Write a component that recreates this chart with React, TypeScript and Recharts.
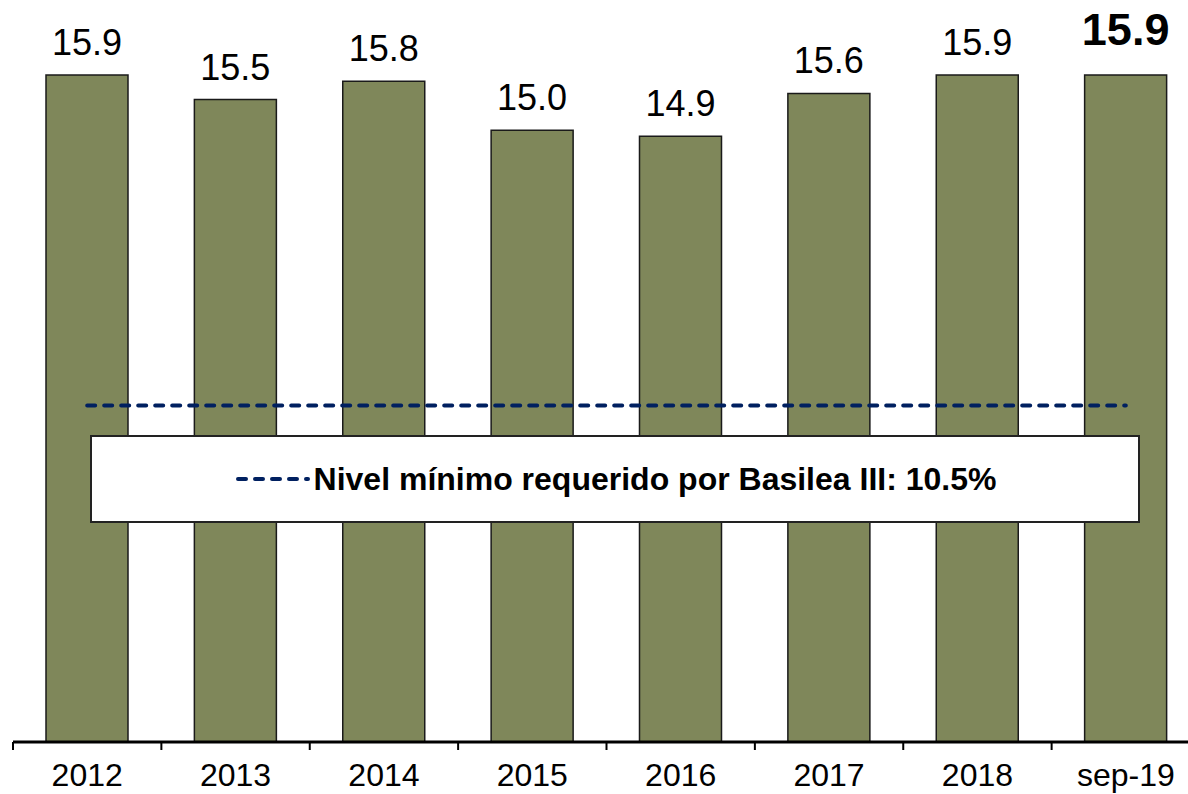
import { BarChart, Bar, XAxis, YAxis, LabelList, ReferenceLine, Legend } from "recharts";

const categories = ["2012", "2013", "2014", "2015", "2016", "2017", "2018", "sep-19"];
const ratios = [15.9, 15.5, 15.8, 15.0, 14.9, 15.6, 15.9, 15.9];
const basileaMin = 10.5;
const legendLabel = "Nivel mínimo requerido por Basilea III: 10.5%";

const CHART_W = 1210;
const CHART_H = 794;
const MARGIN = { top: 69, right: 10, left: 13, bottom: 0 };
const HALF_BAND = (CHART_W - MARGIN.left - MARGIN.right) / categories.length / 2;

const data = categories.map((name, i) => ({ name, ratio: ratios[i] }));

const font = "'Liberation Sans', Arial, sans-serif";

function AxisTick(props: any) {
  const { x, y, payload } = props;
  const left = x - HALF_BAND;
  return (
    <g>
      <line x1={left} y1={y} x2={left} y2={y + 8} stroke="#000" strokeWidth={2} />
      <text
        x={x}
        y={y + 44}
        textAnchor="middle"
        fontSize={32}
        fontFamily={font}
        fill="#000"
      >
        {payload.value}
      </text>
    </g>
  );
}

function ValueLabel(props: any) {
  const { x, y, width, value, index } = props;
  const last = index === categories.length - 1;
  return (
    <text
      x={x + width / 2}
      y={y - (last ? 30 : 20)}
      textAnchor="middle"
      fontSize={last ? 45 : 36}
      fontWeight={last ? "bold" : "normal"}
      fontFamily={font}
      fill="#000"
    >
      {Number(value).toFixed(1)}
    </text>
  );
}

function LegendBox() {
  return (
    <div
      style={{
        boxSizing: "border-box",
        width: "100%",
        height: "100%",
        background: "#fff",
        border: "2px solid #222",
        display: "flex",
        alignItems: "center",
        justifyContent: "center",
        fontFamily: font,
        fontWeight: "bold",
        fontSize: 32,
        color: "#000",
      }}
    >
      <svg width={78} height={10} style={{ marginRight: 2 }}>
        <line
          x1={4}
          y1={5}
          x2={74}
          y2={5}
          stroke="#002060"
          strokeWidth={4}
          strokeDasharray="8 9"
          strokeLinecap="round"
        />
      </svg>
      <span>{legendLabel}</span>
    </div>
  );
}

export default function App() {
  return (
    <div
      style={{
        position: "absolute",
        left: 0,
        top: 0,
        width: 1188,
        height: 794,
        overflow: "hidden",
        background: "#fff",
      }}
    >
      <BarChart width={CHART_W} height={CHART_H} data={data} margin={MARGIN}>
        <XAxis
          dataKey="name"
          height={52}
          tickSize={0}
          tickMargin={0}
          axisLine={{ stroke: "#000", strokeWidth: 3 }}
          tickLine={false}
          tick={<AxisTick />}
          interval={0}
        />
        <YAxis hide domain={[5, 16]} allowDataOverflow />
        <Bar
          dataKey="ratio"
          fill="#7F875A"
          stroke="#1a1a1a"
          strokeWidth={1.5}
          barSize={82}
          isAnimationActive={false}
        >
          <LabelList dataKey="ratio" content={<ValueLabel />} />
        </Bar>
        <ReferenceLine
          segment={[
            { x: categories[0], y: basileaMin },
            { x: categories[categories.length - 1], y: basileaMin },
          ]}
          stroke="#002060"
          strokeWidth={4}
          strokeDasharray="8 9"
          strokeLinecap="round"
        />
        <Legend
          layout="horizontal"
          verticalAlign="middle"
          align="center"
          content={<LegendBox />}
          wrapperStyle={{ top: 435, left: 90, width: 1050, height: 88 }}
        />
      </BarChart>
    </div>
  );
}
